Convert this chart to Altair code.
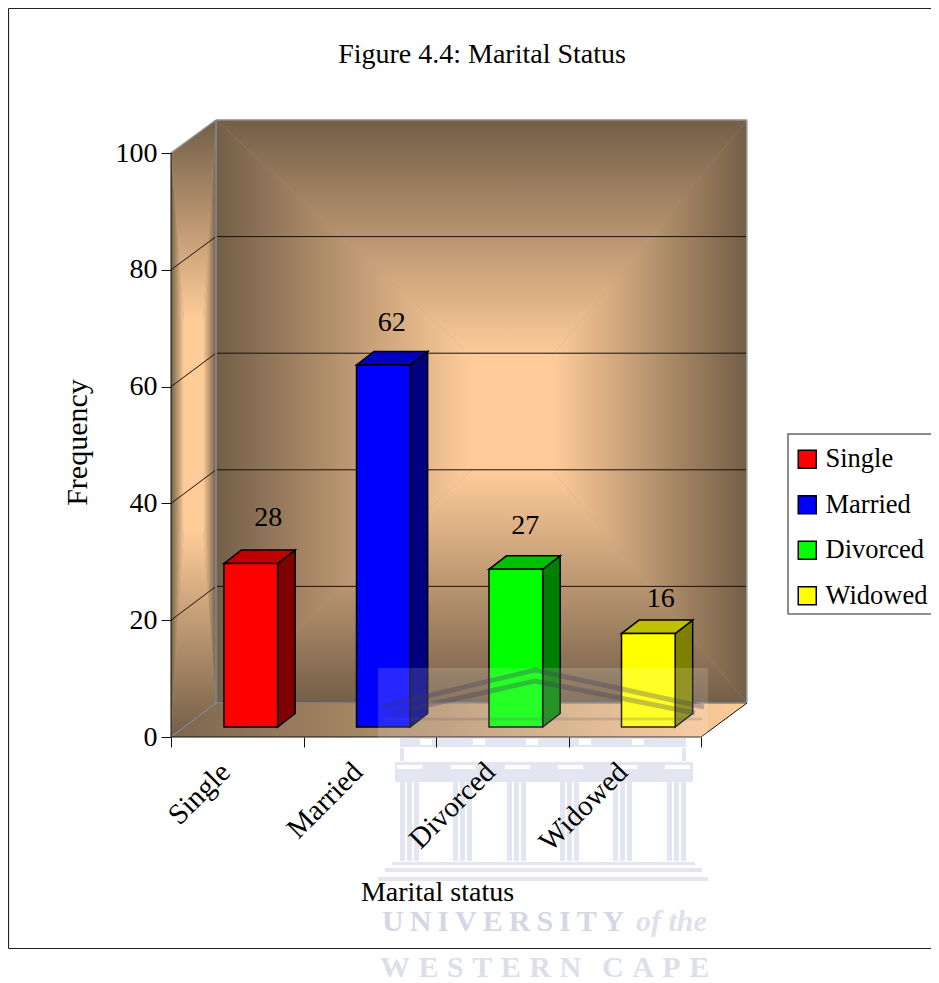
import altair as alt
import pandas as pd

# ---------- values ----------
categories = ["Single", "Married", "Divorced", "Widowed"]
frequency = [28, 62, 27, 16]
face_colors = ["#FF0000", "#0000FF", "#00FF00", "#FFFF00"]
side_colors = ["#800000", "#000080", "#008000", "#808000"]
top_colors = ["#C00000", "#0000C0", "#00C000", "#C0C000"]
y_ticks = [0, 20, 40, 60, 80, 100]

# ---------- layout ----------
FONT = "Liberation Serif"
FS = 28
PX_X0, PX_X4 = 171, 701     # page x of first / last category tick
PX_Y0, PX_Y100 = 737, 153   # page y of value 0 / 100
UX = (PX_X4 - PX_X0) / 4
UY = (PX_Y0 - PX_Y100) / 100
W = PX_X4 - PX_X0
H = PX_Y0 - PX_Y100
PAGE_RIGHT = 931
PAGE_BOTTOM = 983


def X(px):
    return (px - PX_X0) / UX


def Y(py):
    return (PX_Y0 - py) / UY


xs = alt.Scale(domain=[0, 4], nice=False, zero=False)
ys = alt.Scale(domain=[0, 100], nice=False, zero=False)
ex = alt.X("x:Q", scale=xs, axis=None, title=None)
ey = alt.Y("y:Q", scale=ys, axis=None, title=None, stack=None)
ey2 = alt.Y2("y2:Q")

DARK = "#735E47"
PEACH = "#FFCC99"


def grad(horizontal, first, second, mid=None):
    stops = [alt.GradientStop(offset=0, color=first)]
    if mid:
        stops.append(alt.GradientStop(offset=mid[0], color=mid[1]))
    stops.append(alt.GradientStop(offset=1, color=second))
    if horizontal:
        return alt.LinearGradient(gradient="linear", stops=stops, x1=0, x2=1, y1=0, y2=0)
    return alt.LinearGradient(gradient="linear", stops=stops, x1=0, x2=0, y1=0, y2=1)


def face(rows, fill):
    """rows: (page x, page y top, page y bottom)"""
    df = pd.DataFrame([{"x": X(a), "y": Y(b), "y2": Y(c)} for a, b, c in rows])
    return alt.Chart(df).mark_area(color=fill, orient="vertical", strokeWidth=0).encode(x=ex, y=ey, y2=ey2)


def pyramid(l_top, r_top, l_bot, r_bot, il, ir, it, ib):
    """Four trapezoids + inner block making a rectangular gradient on a wall."""
    def top_at(x):
        return l_top[1] + (r_top[1] - l_top[1]) * (x - l_top[0]) / (r_top[0] - l_top[0])

    def bot_at(x):
        return l_bot[1] + (r_bot[1] - l_bot[1]) * (x - l_bot[0]) / (r_bot[0] - l_bot[0])

    x0, x1 = l_top[0], r_top[0]
    return [
        face([(x0, l_top[1], l_bot[1]), (x1, r_top[1], r_bot[1])], "#B89470"),
        face([(x0, l_top[1], l_bot[1]), (il, it, ib)], grad(True, DARK, PEACH)),
        face([(ir, it, ib), (x1, r_top[1], r_bot[1])], grad(True, PEACH, DARK)),
        face([(x0, l_top[1], l_top[1]), (il, top_at(il), it), (ir, top_at(ir), it), (x1, r_top[1], r_top[1])],
             grad(False, DARK, PEACH)),
        face([(x0, l_bot[1], l_bot[1]), (il, ib, bot_at(il)), (ir, ib, bot_at(ir)), (x1, r_bot[1], r_bot[1])],
             grad(False, PEACH, DARK)),
        face([(il - 0.5, it - 0.5, ib + 0.5), (ir + 0.5, it - 0.5, ib + 0.5)], PEACH),
    ]


def lines(segs, color, width, opacity=1.0):
    rows = []
    for i, s in enumerate(segs):
        for j, (a, b) in enumerate(s):
            rows.append({"x": X(a), "y": Y(b), "k": i, "j": j})
    return alt.Chart(pd.DataFrame(rows)).mark_line(
        color=color, strokeWidth=width, opacity=opacity, clip=False
    ).encode(x=ex, y=alt.Y("y:Q", scale=ys, axis=None, title=None), detail="k:N", order=alt.Order("j:Q"))


layers = []

# back wall, side wall, floor
BX0, BX1, BY0, BY1 = 216, 747, 120, 703
layers += pyramid((BX0, BY0), (BX1, BY0), (BX0, BY1), (BX1, BY1), 472, 552, 356, 470)
layers += pyramid((PX_X0, PX_Y100), (BX0, BY0), (PX_X0, PX_Y0), (BX0, BY1), 184, 203, 320, 530)
layers.append(face([(PX_X0, PX_Y0, PX_Y0), (BX0, BY1, PX_Y0), (PX_X4, BY1, PX_Y0), (BX1, BY1, BY1)],
                   grad(True, "#7E664C", PEACH, (0.45, "#B4926E"))))

# grid on the back and side walls
grid_vals = [v for v in y_ticks if 0 < v < 100]
back_y = [BY1 - v * (BY1 - BY0) / 100 for v in grid_vals]
front_y = [PX_Y0 - v * UY for v in grid_vals]
layers.append(lines([[(BX0, y), (BX1, y)] for y in back_y], "#1a1208", 1))
layers.append(lines([[(PX_X0, f), (BX0, b)] for f, b in zip(front_y, back_y)], "#1a1208", 1))

# wall edges
layers.append(lines([[(BX0, BY0), (BX1, BY0)], [(PX_X0, PX_Y100), (BX0, BY0)]], "#8C9094", 1.5))
layers.append(lines([[(BX0, BY1), (BX1, BY1)], [(PX_X0, PX_Y0), (BX0, BY1)]], "#7D8590", 1.5))
layers.append(lines([[(BX0, BY0), (BX0, BY1)]], "#7D8287", 2))
layers.append(lines([[(BX1, BY0), (BX1, BY1)]], "#A4ABB2", 1.5))
layers.append(lines([[(PX_X4, PX_Y0), (BX1, BY1)]], "#111111", 1))
layers.append(lines([[(PX_X0, PX_Y0), (PX_X0, PX_Y100)], [(PX_X0, PX_Y0), (PX_X4, PX_Y0)]], "#111111", 1))

# legend box (its right edge falls outside the picture)
layers.append(lines([[(PAGE_RIGHT, 434), (788, 434), (788, 614)]], "#666666", 1.5))
layers.append(lines([[(788, 614), (PAGE_RIGHT, 614)]], "#222222", 1.2))

# bars
BAR_LEFT = 0.40
BAR_W = 0.405
DX = 17.5 / UX
DY = 13.5 / UY
BASE = 10 / UY
front_rows, label_rows = [], []
label_nudge = [(0, -32), (-9, -28), (-8, -30), (-5, -21)]
BAR_STROKE = dict(stroke="#000000", strokeWidth=1.5, strokeJoin="miter")
for i, (c, v) in enumerate(zip(categories, frequency)):
    l = i + BAR_LEFT
    r = l + BAR_W
    t = BASE + v
    front_rows.append({"category": c, "x": l, "x2": r, "y": t, "y2": BASE})
    side = [{"x": r, "y": t, "y2": BASE}, {"x": r + DX, "y": t + DY, "y2": BASE + DY}]
    top = [{"x": l, "y": t, "y2": t}, {"x": l + DX, "y": t, "y2": t + DY},
           {"x": r, "y": t, "y2": t + DY}, {"x": r + DX, "y": t + DY, "y2": t + DY}]
    layers.append(alt.Chart(pd.DataFrame(side)).mark_area(orient="vertical", fill=side_colors[i], **BAR_STROKE)
                  .encode(x=ex, y=ey, y2=ey2))
    layers.append(alt.Chart(pd.DataFrame(top)).mark_area(orient="vertical", fill=top_colors[i], **BAR_STROKE)
                  .encode(x=ex, y=ey, y2=ey2))
    nx, ny = label_nudge[i]
    label_rows.append({"x": (l + r) / 2 + DX + nx / UX, "y": t + DY - ny / UY, "value": v})

# front faces carry the legend
layers.append(
    alt.Chart(pd.DataFrame(front_rows)).mark_rect(**BAR_STROKE).encode(
        x=ex, x2=alt.X2("x2:Q"), y=alt.Y("y:Q", scale=ys, axis=None, title=None), y2=ey2,
        fill=alt.Fill(
            "category:N",
            sort=categories,
            scale=alt.Scale(domain=categories, range=face_colors),
            legend=alt.Legend(
                title=None, orient="none", legendX=784 - PX_X0, legendY=436 - PX_Y100,
                symbolType="square", symbolSize=324,
                symbolStrokeColor="#000000", symbolStrokeWidth=1.5, labelFont=FONT, labelFontSize=26.5,
                labelColor="#000000", rowPadding=18.5, labelOffset=5, padding=10, symbolOpacity=1,
                labelLimit=300,
            ),
        ),
    )
)

# value labels
layers.append(
    alt.Chart(pd.DataFrame(label_rows)).mark_text(font=FONT, fontSize=FS, color="#000000", baseline="middle").encode(
        x=ex, y=alt.Y("y:Q", scale=ys, axis=None, title=None), text="value:Q"
    )
)

# ---------- faded university crest over the chart ----------
WM = "#E3E6F1"
layers.append(
    alt.Chart(pd.DataFrame([{"x": X(378), "x2": X(708), "y": Y(668), "y2": Y(PAGE_BOTTOM)}]))
    .mark_rect(color="#FFFFFF", opacity=0.15)
    .encode(x=ex, x2=alt.X2("x2:Q"), y=alt.Y("y:Q", scale=ys, axis=None, title=None), y2=ey2)
)
layers.append(lines([[(382, 707), (535, 670), (704, 707)],
                     [(392, 713), (535, 681), (695, 713)]], "#3A3558", 5, 0.3))
layers.append(lines([[(385, 719), (702, 719)]], "#5A5470", 3, 0.2))

crest = []
crest += [(400, 738, 686, 747), (395, 762, 693, 782), (392, 862, 695, 865), (385, 868, 702, 872), (378, 877, 708, 881)]
crest += [(400, 748, 404, 761), (682, 748, 686, 761)]
for g in [400, 453, 507, 560, 613, 667]:
    for s in (0, 7, 14):
        crest.append((g + s, 782, g + s + 5, 861))
layers.append(
    alt.Chart(pd.DataFrame([{"x": X(a), "x2": X(c), "y": Y(b), "y2": Y(d)} for a, b, c, d in crest]))
    .mark_rect(color=WM)
    .encode(x=ex, x2=alt.X2("x2:Q"), y=alt.Y("y:Q", scale=ys, axis=None, title=None), y2=ey2)
)
caps = []
for g in [397, 451, 505, 558, 612, 665]:
    caps.append((g, 765, g + 25, 769))
for g in range(420, 680, 53):
    caps.append((g, 739, g + 12, 745))
layers.append(
    alt.Chart(pd.DataFrame([{"x": X(a), "x2": X(c), "y": Y(b), "y2": Y(d)} for a, b, c, d in caps]))
    .mark_rect(color="#FFFFFF")
    .encode(x=ex, x2=alt.X2("x2:Q"), y=alt.Y("y:Q", scale=ys, axis=None, title=None), y2=ey2)
)

THIN = "\u2009"
HAIR = "\u200a"
wm_text = [
    ("U N I V E R S I T Y".replace(" ", THIN), 382, 931, "normal", "bold", 30, "#D5D8E4"),
    ("of the", 636, 931, "italic", "bold", 30, "#DFE1EA"),
    ("W E S T E R N".replace(" ", THIN + HAIR), 380, 977, "normal", "bold", 30, "#DCDFE8"),
    ("C A P E".replace(" ", THIN + HAIR), 602, 977, "normal", "bold", 30, "#DCDFE8"),
]
for t, a, b, st, wt, sz, col in wm_text:
    layers.append(
        alt.Chart(pd.DataFrame([{"x": X(a), "y": Y(b), "t": t}]))
        .mark_text(font=FONT, fontSize=sz, fontStyle=st, fontWeight=wt, color=col, align="left", baseline="alphabetic")
        .encode(x=ex, y=alt.Y("y:Q", scale=ys, axis=None, title=None), text="t:N")
    )

# outer frame (its right edge falls outside the picture)
layers.append(lines([[(8.5, 8.5), (PAGE_RIGHT, 8.5)], [(8.5, 8.5), (8.5, 948.5)], [(8.5, 948.5), (PAGE_RIGHT, 948.5)]], "#222222", 1.2))

# ---------- real axes ----------
label_expr = "[" + ",".join(repr(c) for c in categories) + ",''][datum.value]"
axis_layer = alt.Chart(pd.DataFrame({"x": [0, 4], "y": [0, 100]})).mark_point(opacity=0).encode(
    x=alt.X(
        "x:Q", scale=xs, title="Marital status",
        axis=alt.Axis(
            values=[0, 1, 2, 3, 4], labelExpr=label_expr, labelAngle=315, labelAlign="right",
            labelBaseline="middle", labelOffset=54, labelPadding=20, tickSize=10, tickColor="#111111",
            domain=False, grid=False, labelFont=FONT, labelFontSize=FS + 1, labelColor="#000000",
            labelOverlap=False, labelFlush=False, labelBound=False, titleFont=FONT, titleFontSize=FS,
            titleFontWeight="normal", titleColor="#000000", titleX=266, titleY=155, titleBaseline="middle",
            titleAnchor="middle", titleAlign="center", zindex=1,
        ),
    ),
    y=alt.Y(
        "y:Q", scale=ys, title="Frequency",
        axis=alt.Axis(
            values=y_ticks, tickSize=10, tickColor="#111111", domain=False, grid=False, labelPadding=4,
            labelFont=FONT, labelFontSize=FS, labelColor="#000000", titleFont=FONT, titleFontSize=FS + 2,
            titleFontWeight="normal", titleColor="#000000", titleX=-94, titleY=289, titleAngle=270,
            titleBaseline="middle", titleAlign="center", zindex=1,
        ),
    ),
)

chart = (
    alt.layer(axis_layer, *layers)
    .resolve_axis(x="independent", y="independent")
    .properties(
        width=W,
        height=H,
        padding={"left": PX_X0 - 8, "top": PX_Y100 - 8, "right": PAGE_RIGHT - PX_X4, "bottom": PAGE_BOTTOM - PX_Y0},
        autosize=alt.AutoSizeParams(type="none"),
        background="#FFFFFF",
        title=alt.TitleParams(
            text="Figure 4.4: Marital Status", font=FONT, fontSize=FS, fontWeight="normal", color="#000000",
            anchor="middle", dx=46, offset=-63,
        ),
    )
    .configure_view(stroke=None)
)

chart.save("out.html", embed_options={"renderer": "svg", "actions": False})
